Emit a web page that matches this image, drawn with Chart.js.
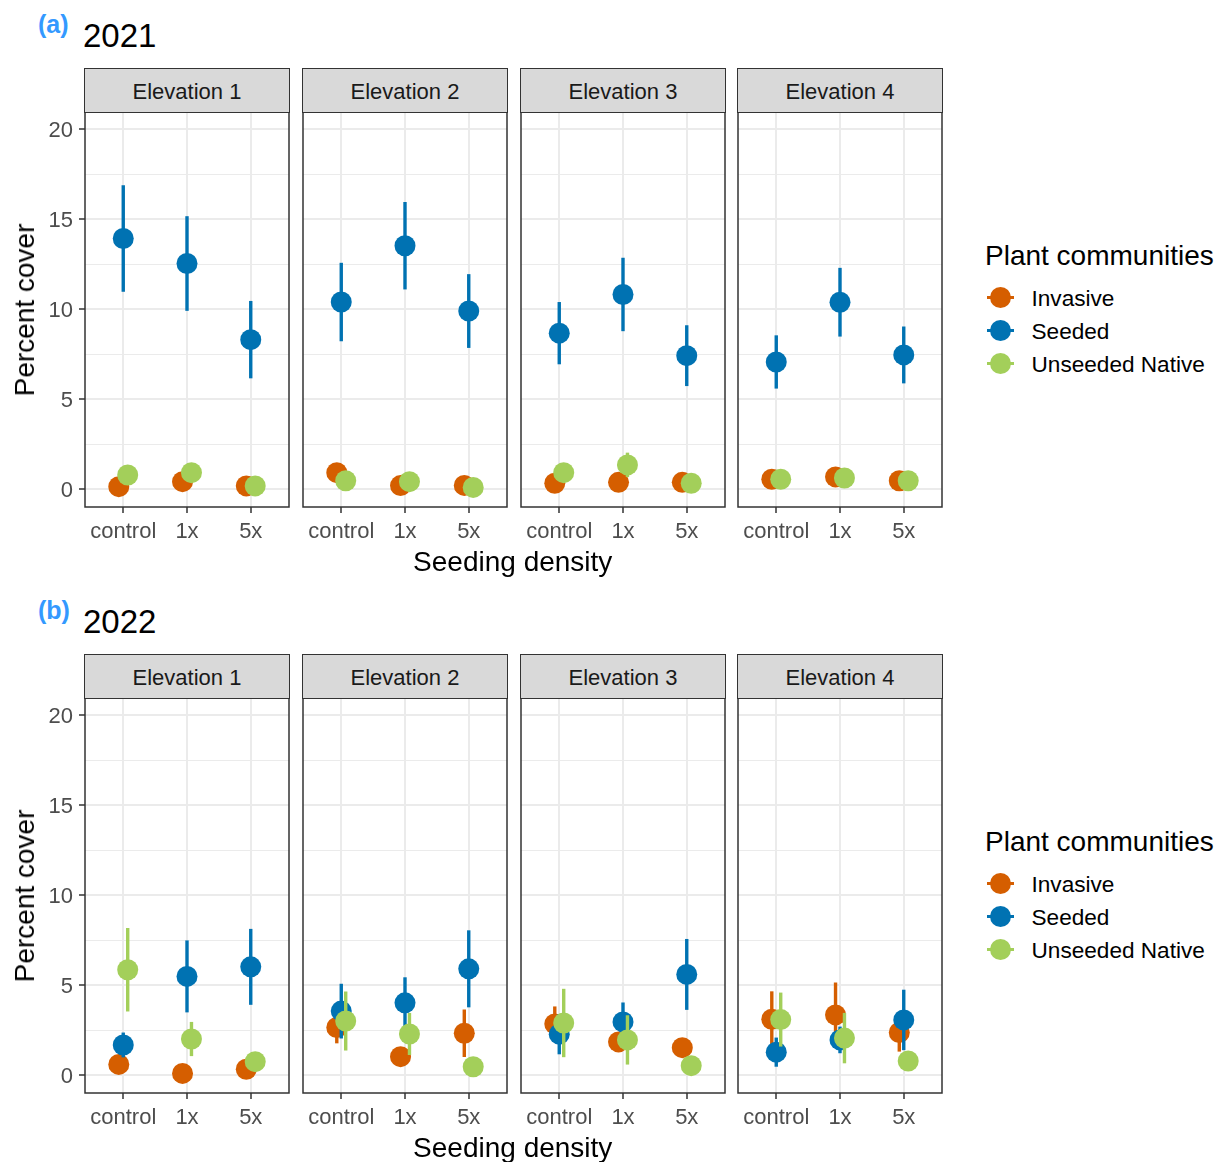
<!DOCTYPE html>
<html>
<head>
<meta charset="utf-8">
<script src="https://cdn.jsdelivr.net/npm/chart.js@4.4.1/dist/chart.umd.min.js"></script>
<style>
  body { margin: 0; background: #fff; width: 1217px; height: 1162px; overflow: hidden; position: relative;
         font-family: 'Liberation Sans', Arial, sans-serif; }
  .abs { position: absolute; white-space: nowrap; line-height: 1; }
  .strip { position: absolute; background: #D9D9D9; border: 1.5px solid #333; box-sizing: border-box;
           color: #1A1A1A; font-size: 22px; text-align: center; line-height: 46px; overflow: visible; }
  canvas { position: absolute; }
  .key { position: absolute; width: 21px; height: 21px; border-radius: 50%; }
  .keybar { position: absolute; width: 27px; height: 3px; }
</style>
</head>
<body>
<script>
// ---- data ----------------------------------------------------------------
const categories = ['control', '1x', '5x'];
const elevations = ['Elevation 1', 'Elevation 2', 'Elevation 3', 'Elevation 4'];
const years = ['2021', '2022'];
const tags = ['(a)', '(b)'];
const seriesNames = ['Invasive', 'Seeded', 'Unseeded Native'];
const yTickValues = [0, 2.5, 5, 7.5, 10, 12.5, 15, 17.5, 20];
const yTickLabels = [0, 5, 10, 15, 20];

// Mean percent cover, one row per elevation: [control, 1x, 5x]
const invasive2021 = [[0.13, 0.41, 0.17], [0.91, 0.19, 0.20], [0.32, 0.37, 0.37], [0.54, 0.67, 0.46]];
const seeded2021   = [[13.92, 12.53, 8.30], [10.39, 13.52, 9.89], [8.66, 10.81, 7.41], [7.06, 10.38, 7.45]];
const native2021   = [[0.78, 0.91, 0.17], [0.46, 0.41, 0.09], [0.91, 1.34, 0.32], [0.54, 0.61, 0.46]];
// Half-length of the interval drawn around each mean
const invasive2021Err = [[0.20, 0.25, 0.15], [0.30, 0.15, 0.15], [0.20, 0.25, 0.20], [0.20, 0.25, 0.20]];
const seeded2021Err   = [[2.96, 2.63, 2.15], [2.18, 2.43, 2.05], [1.73, 2.04, 1.69], [1.48, 1.91, 1.58]];
const native2021Err   = [[0.30, 0.35, 0.15], [0.20, 0.20, 0.10], [0.35, 0.68, 0.20], [0.20, 0.20, 0.20]];

const invasive2022 = [[0.59, 0.09, 0.32], [2.64, 1.02, 2.32], [2.84, 1.84, 1.52], [3.10, 3.34, 2.36]];
const seeded2022   = [[1.67, 5.48, 6.01], [3.55, 4.01, 5.90], [2.27, 2.95, 5.59], [1.27, 1.95, 3.06]];
const native2022   = [[5.85, 2.00, 0.74], [3.00, 2.28, 0.46], [2.89, 1.95, 0.52], [3.08, 2.05, 0.78]];
const invasive2022Err = [[0.30, 0.20, 0.20], [0.88, 0.40, 1.32], [0.97, 0.50, 0.40], [1.55, 1.80, 1.06]];
const seeded2022Err   = [[0.69, 2.00, 2.11], [1.52, 1.42, 2.14], [1.12, 1.08, 1.97], [0.81, 0.74, 1.68]];
const native2022Err   = [[2.32, 0.95, 0.30], [1.64, 1.17, 0.30], [1.90, 1.37, 0.30], [1.50, 1.40, 0.30]];

const yearSeries = {
  '2021': [[invasive2021, invasive2021Err], [seeded2021, seeded2021Err], [native2021, native2021Err]],
  '2022': [[invasive2022, invasive2022Err], [seeded2022, seeded2022Err], [native2022, native2022Err]]
};

// ---- styling / layout -----------------------------------------------------
const COLORS = ['#D55E00', '#0072B2', '#A3CF5A'];
const DODGE = [-0.07, 0, 0.07];
const FONT = "'Liberation Sans', Arial, sans-serif";
const PANEL_LEFT = [85, 303, 521, 738];
const PANEL_W = 204, PANEL_H = 395;
const ROW_TOP = [112, 698];
const AXIS_W = 70, PAD_TOP = 30, PAD_RIGHT = 20, AXIS_H = 60;

function addText(txt, css) {
  const d = document.createElement('div');
  d.className = 'abs';
  d.textContent = txt;
  Object.assign(d.style, css);
  document.body.appendChild(d);
  return d;
}

// vertical interval behind each point, drawn per series so later series sit on top
const errorBars = {
  id: 'errorBars',
  beforeDatasetDraw(chart, args) {
    const ds = chart.data.datasets[args.index];
    const y = chart.scales.y, ctx = chart.ctx;
    ctx.save();
    ctx.strokeStyle = ds.backgroundColor;
    ctx.lineWidth = 3.4;
    args.meta.data.forEach((pt, j) => {
      const m = ds.data[j].y, e = ds.errors[j];
      ctx.beginPath();
      ctx.moveTo(pt.x, y.getPixelForValue(m - e));
      ctx.lineTo(pt.x, y.getPixelForValue(m + e));
      ctx.stroke();
    });
    ctx.restore();
  }
};

const panelBorder = {
  id: 'panelBorder',
  afterDraw(chart) {
    const a = chart.chartArea, ctx = chart.ctx;
    ctx.save();
    ctx.strokeStyle = '#333333';
    ctx.lineWidth = 1.5;
    ctx.strokeRect(a.left, a.top, a.right - a.left, a.bottom - a.top);
    ctx.restore();
  }
};

function makePanel(row, col) {
  const year = years[row];
  const first = col === 0;
  const canvas = document.createElement('canvas');
  const w = AXIS_W + PANEL_W + PAD_RIGHT, h = PAD_TOP + PANEL_H + AXIS_H;
  canvas.width = w; canvas.height = h;
  canvas.style.width = w + 'px'; canvas.style.height = h + 'px';
  canvas.style.left = (PANEL_LEFT[col] - AXIS_W) + 'px';
  canvas.style.top = (ROW_TOP[row] - PAD_TOP) + 'px';
  document.body.appendChild(canvas);

  const datasets = seriesNames.map((name, s) => {
    const [means, errs] = yearSeries[year][s];
    return {
      label: name,
      data: categories.map((c, i) => ({ x: i + DODGE[s], y: means[col][i] })),
      errors: errs[col],
      backgroundColor: COLORS[s],
      pointRadius: 10.5,
      pointBorderWidth: 0,
      order: seriesNames.length - s
    };
  });

  new Chart(canvas, {
    type: 'scatter',
    data: { datasets },
    plugins: [errorBars, panelBorder],
    options: {
      responsive: false,
      animation: false,
      events: [],
      layout: { padding: { top: PAD_TOP, right: PAD_RIGHT, left: 0, bottom: 0 } },
      plugins: { legend: { display: false }, tooltip: { enabled: false } },
      scales: {
        x: {
          type: 'linear', min: -0.6, max: 2.6,
          afterBuildTicks: s => { s.ticks = categories.map((c, i) => ({ value: i })); },
          afterFit: s => { s.height = AXIS_H; },
          ticks: { callback: v => categories[v], color: '#4D4D4D', font: { family: FONT, size: 22 },
                   padding: 6, maxRotation: 0, autoSkip: false },
          grid: { color: '#EBEBEB', lineWidth: 2, tickColor: '#333333', tickLength: 6, tickWidth: 1.5 },
          border: { display: false }
        },
        y: {
          type: 'linear', min: -1.0, max: 20.95,
          afterBuildTicks: s => { s.ticks = yTickValues.map(v => ({ value: v })); },
          afterFit: s => { s.width = AXIS_W; },
          ticks: { display: first, callback: v => yTickLabels.includes(v) ? String(v) : '',
                   color: '#4D4D4D', font: { family: FONT, size: 22 }, padding: 6, labelOffset: 2 },
          grid: {
            color: '#EBEBEB',
            lineWidth: c => yTickLabels.includes(c.tick.value) ? 2 : 1,
            drawTicks: first, tickLength: 6, tickWidth: 1.5,
            tickColor: c => yTickLabels.includes(c.tick.value) ? '#333333' : 'rgba(0,0,0,0)'
          },
          border: { display: false }
        }
      }
    }
  });

  // facet strip
  const st = document.createElement('div');
  st.className = 'strip';
  st.textContent = elevations[col];
  Object.assign(st.style, { left: (PANEL_LEFT[col] - 0.75) + 'px', top: (ROW_TOP[row] - 44) + 'px',
                            width: (PANEL_W + 1.5) + 'px', height: '44.75px' });
  document.body.appendChild(st);
}

const ROW_SHIFT = 586;
years.forEach((year, r) => {
  const dy = r * ROW_SHIFT;
  addText(tags[r], { left: '38px', top: (12.2 + dy) + 'px', fontSize: '25px', fontWeight: 'bold', color: '#3399FF' });
  addText(year, { left: '83px', top: (19.4 + dy) + 'px', fontSize: '33px', color: '#000' });
  for (let c = 0; c < elevations.length; c++) makePanel(r, c);

  // axis titles
  addText('Seeding density', { left: '512.75px', top: (547.8 + dy) + 'px', fontSize: '28px', color: '#000',
                               transform: 'translateX(-50%)' });
  addText('Percent cover', { left: '25px', top: (309.5 + dy) + 'px', fontSize: '28px', color: '#000',
                             transform: 'translate(-50%,-50%) rotate(-90deg)' });

  // legend
  addText('Plant communities', { left: '985px', top: (242.3 + dy) + 'px', fontSize: '28px', color: '#000' });
  seriesNames.forEach((name, s) => {
    const cy = 297.7 + s * 32.8 + dy;
    const bar = document.createElement('div');
    bar.className = 'keybar';
    Object.assign(bar.style, { left: '986.5px', top: (cy - 1.5) + 'px', background: COLORS[s] });
    document.body.appendChild(bar);
    const k = document.createElement('div');
    k.className = 'key';
    Object.assign(k.style, { left: '989.5px', top: (cy - 10.5) + 'px', background: COLORS[s] });
    document.body.appendChild(k);
    addText(name, { left: '1031.5px', top: (cy - 9.8) + 'px', fontSize: '22.6px', color: '#000' });
  });
});
</script>
</body>
</html>
